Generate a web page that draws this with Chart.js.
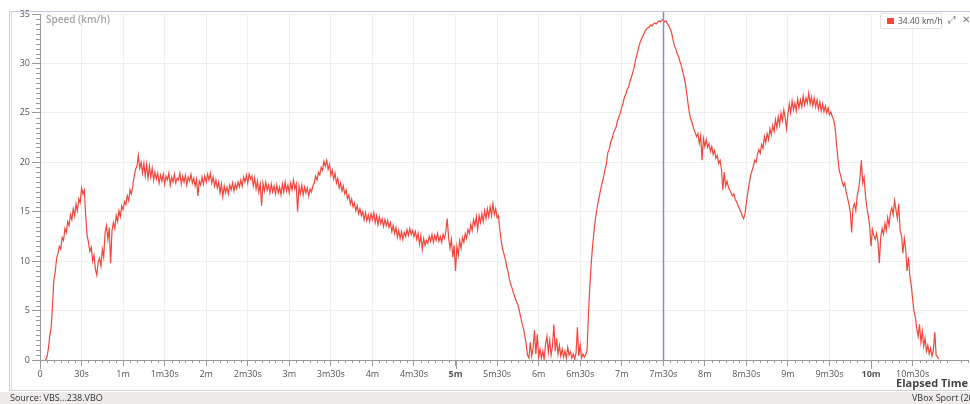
<!DOCTYPE html>
<html>
<head>
<meta charset="utf-8">
<script src="https://cdn.jsdelivr.net/npm/chart.js@4.4.1/dist/chart.umd.min.js"></script>
<style>
    html, body { margin: 0; padding: 0; background: #fff; }
    #wrap { position: relative; width: 970px; height: 404px; overflow: hidden; font-family: 'Open Sans', sans-serif; }
    #speedChart { position: absolute; left: 0; top: 0; }
    .line { position: absolute; }
    #topLine { left: 9px; top: 11px; width: 961px; height: 1px; background: #c3c8d6; }
    #leftLine1 { left: 9px; top: 11px; width: 1px; height: 380px; background: #cfcfcf; }
    #leftLine2 { left: 11px; top: 11px; width: 1px; height: 380px; background: #dcdcdc; }
    #bottomLine { left: 9px; top: 390px; width: 961px; height: 1px; background: #d2d2d2; }
    #status { position: absolute; left: 0; top: 392px; width: 970px; height: 12px; background: #eeebeb; font-size: 9px; color: #333; line-height: 12px; white-space: nowrap; }
    #status .src { position: absolute; left: 10px; }
    #status .dev { position: absolute; left: 912px; }
    #axisName { position: absolute; left: 46px; top: 12px; font-size: 10px; font-weight: 600; color: #a3a3a3; }
    #legend { position: absolute; left: 880px; top: 13px; width: 60px; height: 14px; border: 1px solid #e2e2e2; border-radius: 2px; background: #fff; font-size: 8.5px; color: #555; line-height: 14px; white-space: nowrap; }
    #legend .sw { position: absolute; left: 6px; top: 4px; width: 7px; height: 6px; background: #f2473a; }
    #legend .txt { position: absolute; left: 17px; top: 0; white-space: nowrap; }
    .icon { position: absolute; top: 12px; font-size: 10px; color: #777; }
</style>
</head>
<body>
<div id="wrap">
    <canvas id="speedChart" width="970" height="392"></canvas>
    <div class="line" id="topLine"></div>
    <div class="line" id="leftLine1"></div>
    <div class="line" id="leftLine2"></div>
    <div class="line" id="bottomLine"></div>
    <div id="axisName">Speed (km/h)</div>
    <div id="legend"><span class="sw"></span><span class="txt" id="legendText"></span></div>
    <div class="icon" style="left:948px">&#x2922;</div>
    <div class="icon" style="left:962px">&#x2715;</div>
    <div id="status"><span class="src">Source: VBS...238.VBO</span><span class="dev">VBox Sport (20 Hz)</span></div>
</div>
<script>
"use strict";

// speed trace, one reading per second, starting at 4 s
const sampleStart = 4;
const sampleStep = 1;
const speedKmh = [
    0, 0.3, 1.1, 2.4, 3.2, 5.4,
    8.1, 8.9, 10.3, 10.8, 11.5, 11.2, 12.4, 12.1, 13.3, 12.9,
    14.0, 13.6, 14.7, 14.2, 15.3, 14.6, 15.8, 15.1, 16.3, 15.9,
    17.4, 16.8, 17.2, 14.6, 12.6, 11.9, 11.0, 11.4, 10.0, 10.6,
    9.2, 8.6, 9.9, 10.3, 9.5, 11.2, 10.4, 12.9, 13.6, 12.2,
    13.4, 9.8, 13.1, 13.9, 13.3, 14.6, 14.0, 15.1, 14.5, 15.6,
    15.2, 16.0, 15.7, 16.6, 16.1, 17.2, 16.8, 17.6, 18.6, 19.3,
    19.6, 20.7, 19.4, 20.0, 18.9, 19.9, 18.6, 19.8, 18.4, 19.6,
    18.5, 19.4, 18.2, 19.0, 18.3, 18.9, 17.9, 18.7, 18.1, 18.8,
    17.8, 18.6, 18.2, 18.9, 17.7, 18.5, 18.0, 18.8, 17.9, 18.4,
    18.2, 18.9, 17.8, 18.6, 18.0, 18.7, 17.7, 18.5, 18.1, 18.8,
    17.9, 18.4, 17.6, 18.3, 16.6, 18.1, 17.7, 18.5, 17.8, 18.6,
    18.0, 18.8, 18.2, 18.9, 17.9, 18.5, 17.6, 18.2, 17.4, 18.0,
    16.9, 17.8, 16.5, 17.6, 16.9, 17.5, 16.8, 17.7, 17.2, 17.9,
    17.1, 17.8, 17.3, 18.0, 17.5, 18.2, 17.6, 18.5, 18.0, 18.7,
    17.9, 18.8, 18.3, 18.6, 17.6, 18.4, 17.3, 18.1, 17.0, 17.8,
    15.6, 17.9, 17.1, 18.0, 17.2, 17.7, 16.9, 17.8, 17.0, 17.6,
    16.8, 17.7, 16.9, 17.5, 16.7, 17.8, 17.0, 18.0, 17.1, 17.7,
    16.9, 17.9, 17.2, 18.2, 17.3, 17.8, 15.0, 17.6, 16.8, 17.7,
    16.7, 17.5, 16.9, 17.4, 16.6, 17.3, 17.0, 17.6, 17.9, 18.6,
    18.2, 19.0, 18.7, 19.5, 19.2, 20.1, 19.6, 20.2, 19.3, 19.8,
    18.7, 19.2, 18.3, 18.9, 17.9, 18.4, 17.4, 17.9, 17.1, 17.6,
    16.8, 17.2, 16.3, 16.7, 15.8, 16.3, 15.5, 15.9, 15.1, 15.6,
    14.8, 15.3, 14.6, 15.0, 14.2, 14.9, 14.1, 14.7, 14.0, 14.8,
    14.2, 14.9, 13.9, 14.6, 13.7, 14.5, 13.8, 14.3, 13.5, 14.2,
    13.6, 14.1, 13.4, 13.9, 13.0, 13.6, 12.8, 13.4, 12.4, 13.1,
    12.3, 13.0, 12.2, 12.9, 12.5, 13.2, 12.6, 13.3, 12.7, 13.1,
    12.5, 13.0, 12.2, 12.8, 11.7, 12.6, 11.2, 12.3, 11.6, 12.1,
    11.8, 12.5, 12.0, 12.7, 11.9, 12.6, 12.1, 12.8, 12.0, 12.5,
    11.9, 12.7, 12.3, 13.0, 14.3, 12.4, 11.3, 12.2, 10.4, 11.6,
    9.0, 11.5, 10.6, 12.1, 11.3, 12.4, 11.9, 12.8, 12.3, 13.2,
    12.8, 13.7, 13.1, 14.2, 13.6, 14.5, 13.2, 14.6, 13.9, 14.8,
    14.0, 15.1, 14.3, 15.3, 14.5, 15.5, 14.6, 15.8, 14.7, 15.3,
    14.4, 14.6, 13.2, 12.1, 11.2, 10.7, 10.2, 9.4, 8.9, 8.1,
    7.6, 7.2, 6.7, 6.3, 5.9, 5.6, 5.0, 4.4, 3.7, 3.2,
    2.5, 1.6, 0.5, 0.2, 1.8, 0.4, 1.2, 3.0, 0.6, 2.6,
    0.3, 1.1, 0.2, 0.9, 0.1, 1.6, 2.4, 0.8, 2.0, 0.5,
    1.4, 3.6, 0.9, 2.2, 0.6, 1.5, 0.4, 1.1, 0.3, 0.9,
    0.2, 1.3, 0.5, 0.8, 0.2, 0.6, 0.1, 0.7, 3.3, 0.4,
    1.5, 0.2, 0.6, 0.3, 0.5, 1.0, 4.8, 7.5, 9.8, 11.6,
    13.0, 14.3, 15.2, 16.0, 16.7, 17.4, 18.0, 18.6, 19.3, 19.9,
    21.0, 21.3, 22.0, 22.4, 22.9, 23.3, 23.6, 24.2, 24.6, 25.0,
    25.6, 26.0, 26.6, 26.9, 27.4, 27.6, 28.2, 28.6, 29.1, 29.6,
    30.4, 30.9, 31.5, 32.0, 32.4, 32.7, 33.0, 33.3, 33.5, 33.6,
    33.7, 33.9, 33.8, 34.0, 34.1, 34.0, 34.2, 34.3, 34.2, 34.4,
    34.4, 34.2, 34.3, 34.0, 33.8, 33.5, 33.1, 32.4, 31.8, 31.5,
    31.0, 30.7, 30.2, 29.8, 29.2, 28.6, 27.9, 26.9, 25.8, 24.9,
    24.3, 23.9, 23.4, 23.0, 22.6, 22.9, 21.9, 22.7, 20.2, 22.4,
    21.6, 22.3, 21.5, 21.9, 21.1, 21.6, 20.8, 21.2, 20.4, 20.7,
    19.9, 20.2, 19.3, 17.2, 19.0, 17.6, 18.1, 17.5, 17.2, 16.9,
    16.6, 16.8, 16.2, 16.0, 15.6, 15.3, 15.0, 14.6, 14.3, 14.8,
    15.9, 16.9, 17.8, 18.6, 19.1, 19.6, 20.2, 20.0, 20.8, 21.3,
    20.9, 21.8, 21.4, 22.6, 22.0, 22.9, 22.3, 23.4, 22.8, 23.7,
    23.1, 24.3, 23.5, 24.6, 23.8, 25.0, 24.2, 25.3, 24.5, 23.4,
    24.9, 25.9, 25.0, 26.2, 25.3, 26.0, 25.2, 26.4, 25.5, 26.3,
    25.6, 26.7, 25.8, 26.5, 26.0, 27.0, 25.9, 26.6, 25.7, 26.5,
    25.6, 26.3, 25.4, 26.1, 25.2, 25.9, 25.1, 25.7, 25.0, 25.5,
    24.8, 25.1, 24.6, 24.3, 23.6, 22.0, 20.5, 19.2, 18.7, 18.1,
    17.6, 17.9, 17.0, 16.4, 15.8, 15.0, 12.9, 15.4, 15.8, 15.1,
    16.6, 17.3, 18.4, 20.2, 17.9, 18.5, 16.6, 15.4, 14.6, 13.6,
    11.5, 13.2, 12.6, 12.2, 12.8, 11.9, 9.8, 12.4, 13.3, 12.7,
    13.8, 13.1, 14.4, 13.6, 14.9, 15.4, 14.7, 16.1, 15.2, 14.3,
    15.8, 13.1, 12.6, 10.8, 12.3, 11.2, 9.0, 10.4, 8.5, 7.6,
    6.2, 5.0, 4.3, 3.2, 2.4, 3.6, 1.8, 2.9, 1.4, 2.2,
    0.9, 1.5, 0.6, 1.2, 0.4, 1.0, 2.8, 0.5, 0.3, 0.1
];

const timeMin = 0;
const timeMax = 670;     // seconds
const speedMin = 0;
const speedMax = 35;
const cursorTime = 450;  // 7m30s
const cursorSpeed = 34.40;

const lineColor = '#f2473a';
const gridColor = '#efefef';
const axisColor = '#9a9a9a';
const fontFamily = "'Open Sans', sans-serif";

document.getElementById('legendText').textContent = cursorSpeed.toFixed(2) + ' km/h';

const points = speedKmh.map((v, i) => ({x: sampleStart + i * sampleStep, y: v}));

function formatTime(sec) {
    if (sec === 0) {
        return '0';
    }
    const m = Math.floor(sec / 60);
    const s = sec % 60;
    let out = '';
    if (m > 0) out += m + 'm';
    if (s > 0) out += s + 's';
    return out;
}

// minor ticks, long ticks on whole 5 minutes, and the cursor line
const extrasPlugin = {
    id: 'extras',
    afterDraw(chart) {
        const ctx = chart.ctx;
        const xs = chart.scales.x;
        const ys = chart.scales.y;
        const area = chart.chartArea;
        ctx.save();
        ctx.strokeStyle = axisColor;
        ctx.lineWidth = 1;
        ctx.beginPath();
        for (let v = speedMin; v <= speedMax; v += 0.5) {
            if (v % 5 === 0) continue;
            const py = Math.round(ys.getPixelForValue(v)) + 0.5;
            ctx.moveTo(area.left - 4, py);
            ctx.lineTo(area.left, py);
        }
        for (let t = timeMin; t <= timeMax; t += 5) {
            const px = Math.round(xs.getPixelForValue(t)) + 0.5;
            let len = 3;
            if (t % 300 === 0) len = 9;
            else if (t % 30 === 0) continue;
            ctx.moveTo(px, area.bottom);
            ctx.lineTo(px, area.bottom + len);
        }
        ctx.stroke();

        const cx = Math.round(xs.getPixelForValue(cursorTime)) + 0.5;
        ctx.strokeStyle = '#8490b5';
        ctx.lineWidth = 1.5;
        ctx.beginPath();
        ctx.moveTo(cx, area.top - 2);
        ctx.lineTo(cx, area.bottom);
        ctx.stroke();
        ctx.restore();
    }
};

new Chart(document.getElementById('speedChart'), {
    type: 'line',
    data: {
        datasets: [{
            label: 'Speed (km/h)',
            data: points,
            borderColor: lineColor,
            borderWidth: 1.2,
            pointRadius: 0,
            fill: false,
            tension: 0,
        }]
    },
    options: {
        responsive: false,
        animation: false,
        layout: {padding: {top: 14, right: 2, left: 0, bottom: 0}},
        plugins: {
            legend: {display: false},
            tooltip: {enabled: false},
        },
        scales: {
            x: {
                type: 'linear',
                min: timeMin,
                max: timeMax,
                afterFit: scale => { scale.height = 32; },
                afterBuildTicks: scale => {
                    scale.ticks = scale.ticks.filter(t => t.value % 30 === 0);
                },
                ticks: {
                    stepSize: 30,
                    autoSkip: false,
                    maxRotation: 0,
                    padding: 3,
                    color: '#555',
                    font: ctx => ({
                        family: fontFamily,
                        size: 9,
                        weight: (ctx.tick && ctx.tick.value > 0 && ctx.tick.value % 300 === 0) ? 'bold' : 'normal'
                    }),
                    callback: value => formatTime(value),
                },
                grid: {
                    color: gridColor,
                    tickColor: axisColor,
                    tickLength: 6,
                },
                border: {color: axisColor},
                title: {
                    display: true,
                    text: 'Elapsed Time',
                    align: 'end',
                    color: '#444',
                    font: {family: fontFamily, size: 11, weight: 'bold'},
                    padding: {top: 0, bottom: 2},
                },
            },
            y: {
                min: speedMin,
                max: speedMax,
                afterFit: scale => { scale.width = 40; },
                ticks: {
                    stepSize: 5,
                    padding: 2,
                    color: '#555',
                    font: {family: fontFamily, size: 9},
                },
                grid: {
                    color: gridColor,
                    tickColor: axisColor,
                    tickLength: 8,
                },
                border: {color: axisColor},
            },
        },
    },
    plugins: [extrasPlugin],
});
</script>
</body>
</html>
